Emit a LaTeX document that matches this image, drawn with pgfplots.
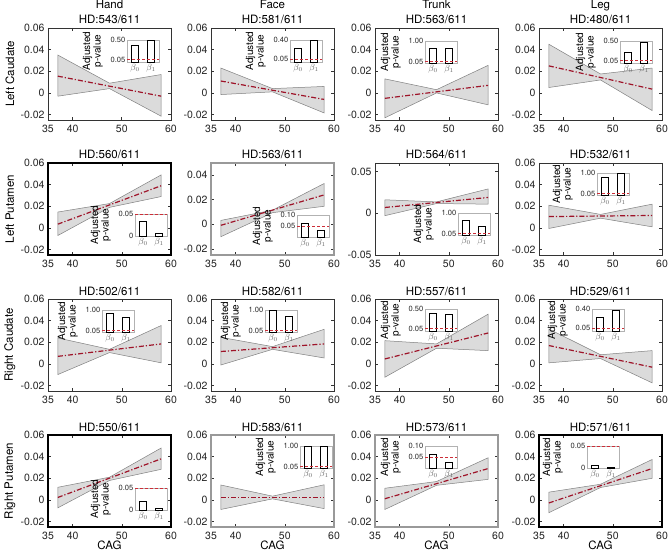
\documentclass[border=0pt]{standalone}
\usepackage{fontspec}
\setmainfont{TeX Gyre Heros}
\usepackage{pgfplots}
\pgfplotsset{compat=1.18}
\definecolor{dred}{rgb}{0.62,0.08,0.16}
\definecolor{ired}{rgb}{0.80,0.18,0.22}
\definecolor{bandfill}{gray}{0.86}
\definecolor{bandedge}{gray}{0.5}
\newcommand\tickfont{\fontsize{10.5}{12}\selectfont}
\newcommand\titlefont{\fontsize{11.5}{13}\selectfont}
\newcommand\insettick{\fontsize{7.5}{8}\selectfont}
\newcommand\insetlab{\fontsize{10}{10.5}\selectfont}
\pgfplotsset{
  mainax/.style={scale only axis, width=123pt, height=92pt, anchor=south west,
    scaled ticks=false,
    xmin=35, xmax=60, xtick={35,40,50,60}, xticklabels={35,40,50,60},
    ymin=-0.025, ymax=0.06, ytick={-0.02,0,0.02,0.04,0.06},
    yticklabels={-0.02,0,0.02,0.04,0.06},
    tick align=inside, tick pos=both, major tick length=3pt,
    axis line style={black!80, line width=0.6pt},
    tick style={black!80, line width=0.6pt},
    ticklabel style={font=\tickfont, text=black!85},
    xticklabel style={yshift=-1.5pt},
    clip=false,
    ylabel style={font=\titlefont, at={(axis description cs:-0.31,0.5)}, anchor=center},
    xlabel style={font=\titlefont, at={(axis description cs:0.5,0)}, anchor=center, yshift=-18pt},
  },
  blackframe/.style={axis line style={black, line width=2.3pt}},
  grayframe/.style={axis line style={black!40, line width=2pt}},
  inset/.style={scale only axis, width=32pt, height=22pt, anchor=south west,
    scaled ticks=false,
    xmin=0.5, xmax=2.5, ymin=0, xtick={1,2},
    xticklabels={$\beta_0$,$\beta_1$},
    axis line style={black!30, line width=0.5pt},
    major tick length=0pt, tick pos=left,
    axis background/.style={fill=white},
    yticklabel style={font=\insettick, text=black!85, inner sep=1.5pt},
    xticklabel style={font=\fontsize{9}{10}\selectfont, text=black!60, inner sep=2pt},
    clip=false,
    ylabel={Adjusted\\p-value},
    ylabel style={font=\insetlab, align=center, at={(axis description cs:-0.75,0.5)}, anchor=south, inner sep=0pt},
  },
}
\newcommand\ptitle[1]{\node[font=\titlefont, anchor=base, inner sep=0pt] at (rel axis cs:0.5,1) [yshift=4pt] {#1};}
\newcommand\ctitle[1]{\node[font=\titlefont, anchor=base, inner sep=0pt] at (rel axis cs:0.5,1) [yshift=19pt] {#1};}
\newcommand\bandline[8]{%
  \addplot[fill=bandfill, draw=bandedge, line width=0.5pt] coordinates {(37,#1) (47.5,#2) (58,#3) (58,#6) (47.5,#5) (37,#4)} -- cycle;
  \addplot[dred, line width=1.2pt, dash pattern=on 5pt off 2pt on 1.2pt off 2pt] coordinates {(37,#7) (58,#8)};}
\newcommand\inset[7]{%
  \begin{axis}[inset, at={(#1pt,#2pt)}, ymax=#3, ytick={#4}, yticklabels={#5}]
    \addplot[ybar, bar width=7pt, fill=white, draw=black, line width=0.6pt] coordinates {(1,#6) (2,#7)};
    \addplot[ired, line width=0.8pt, dash pattern=on 3pt off 2pt] coordinates {(0.5,0.05) (2.5,0.05)};
  \end{axis}}
\begin{document}
\begin{tikzpicture}
\path[use as bounding box] (0,0) rectangle (668pt,559pt);
% ---------------- Row 1: Left Caudate
\begin{axis}[mainax, at={(48pt,439pt)}, ylabel={Left Caudate}]
  \bandline{0.035}{0.009}{0.017}{-0.003}{0.004}{-0.0215}{0.0155}{-0.003}
  \ptitle{HD:543/611}\ctitle{Hand}
\end{axis}
\begin{axis}[mainax, at={(211pt,439pt)}]
  \bandline{0.023}{0.004}{0.006}{-0.0015}{0.001}{-0.0185}{0.011}{-0.006}
  \ptitle{HD:581/611}\ctitle{Face}
\end{axis}
\begin{axis}[mainax, at={(375pt,439pt)}]
  \bandline{0.013}{0.003}{0.0255}{-0.023}{0.000}{-0.011}{-0.005}{0.007}
  \ptitle{HD:563/611}\ctitle{Trunk}
\end{axis}
\begin{axis}[mainax, at={(539pt,439pt)}]
  \bandline{0.045}{0.0175}{0.023}{0.005}{0.012}{-0.0163}{0.025}{0.0035}
  \ptitle{HD:480/611}\ctitle{Leg}
\end{axis}
\inset{127}{497}{0.5}{0.05,0.5}{0.05,0.50}{0.37}{0.49}
\inset{290}{497}{0.4}{0.05,0.4}{0.05,0.40}{0.24}{0.39}
\inset{425}{496}{1}{0.05,1}{0.05,1.00}{0.65}{0.65}
\inset{620}{496}{0.5}{0.05,0.5}{0.05,0.50}{0.25}{0.46}
% ---------------- Row 2: Left Putamen
\begin{axis}[mainax, blackframe, at={(48pt,304pt)}, ylabel={Left Putamen}]
  \bandline{0.0147}{0.0225}{0.049}{-0.007}{0.019}{0.029}{0.0035}{0.039}
  \ptitle{HD:560/611}
\end{axis}
\begin{axis}[mainax, grayframe, at={(211pt,304pt)}, ymax=0.05,
  ytick={-0.02,0,0.02,0.04}, yticklabels={-0.02,0,0.02,0.04}]
  \bandline{0.0032}{0.0115}{0.0333}{-0.0101}{0.0095}{0.0147}{-0.0008}{0.024}
  \ptitle{HD:563/611}
\end{axis}
\begin{axis}[mainax, at={(375pt,304pt)}, ymin=-0.05, ymax=0.06,
  ytick={-0.05,0,0.05}, yticklabels={-0.05,0,0.05}]
  \bandline{0.016}{0.0135}{0.029}{-0.003}{0.0115}{0.0108}{0.0068}{0.0188}
  \ptitle{HD:564/611}
\end{axis}
\begin{axis}[mainax, at={(539pt,304pt)}]
  \bandline{0.021}{0.0125}{0.022}{-0.0005}{0.009}{0.001}{0.0105}{0.0115}
  \ptitle{HD:532/611}
\end{axis}
\inset{135}{323}{0.05}{0,0.05}{0,0.05}{0.034}{0.007}
\inset{297}{322}{0.1}{0.05,0.1}{0.05,0.10}{0.061}{0.031}
\inset{458}{324}{1}{0.05,1}{0.05,1.00}{0.66}{0.38}
\inset{597}{364}{1}{0.05,1}{0.05,1.00}{0.82}{0.99}
% ---------------- Row 3: Right Caudate
\begin{axis}[mainax, at={(48pt,168pt)}, ylabel={Right Caudate}]
  \bandline{0.024}{0.0135}{0.0355}{-0.0098}{0.0105}{0.001}{0.007}{0.0185}
  \ptitle{HD:502/611}
\end{axis}
\begin{axis}[mainax, at={(211pt,168pt)}]
  \bandline{0.0246}{0.016}{0.032}{-0.001}{0.0135}{0.0055}{0.0115}{0.0185}
  \ptitle{HD:582/611}
\end{axis}
\begin{axis}[mainax, at={(375pt,168pt)}]
  \bandline{0.0215}{0.0185}{0.046}{-0.0123}{0.0145}{0.0123}{0.0046}{0.0286}
  \ptitle{HD:557/611}
\end{axis}
\begin{axis}[mainax, at={(539pt,168pt)}]
  \bandline{0.0323}{0.0085}{0.0123}{0.001}{0.005}{-0.0175}{0.017}{-0.003}
  \ptitle{HD:529/611}
\end{axis}
\inset{102}{227}{1}{0.05,1}{0.05,1.00}{0.85}{0.65}
\inset{265}{227}{1}{0.05,1}{0.05,1.00}{0.99}{0.70}
\inset{425}{228}{0.5}{0.05,0.5}{0.05,0.50}{0.41}{0.37}
\inset{592}{228}{0.4}{0.05,0.4}{0.05,0.40}{0.24}{0.38}
% ---------------- Row 4: Right Putamen
\begin{axis}[mainax, blackframe, at={(48pt,32pt)}, ylabel={Right Putamen}, xlabel={CAG}]
  \bandline{0.0117}{0.021}{0.048}{-0.0073}{0.018}{0.0283}{0.0023}{0.038}
  \ptitle{HD:550/611}
\end{axis}
\begin{axis}[mainax, grayframe, at={(211pt,32pt)}, xlabel={CAG}]
  \bandline{0.0138}{0.0035}{0.014}{-0.0088}{0.001}{-0.008}{0.0025}{0.0025}
  \ptitle{HD:583/611}
\end{axis}
\begin{axis}[mainax, grayframe, at={(375pt,32pt)}, xlabel={CAG}]
  \bandline{0.0108}{0.017}{0.039}{-0.0088}{0.0135}{0.019}{0.0011}{0.029}
  \ptitle{HD:573/611}
\end{axis}
\begin{axis}[mainax, blackframe, at={(539pt,32pt)}, xlabel={CAG}]
  \bandline{0.0072}{0.0145}{0.0374}{-0.0118}{0.0115}{0.020}{-0.0028}{0.029}
  \ptitle{HD:571/611}
\end{axis}
\inset{135}{49}{0.05}{0,0.05}{0,0.05}{0.019}{0.004}
\inset{300}{91}{1}{0.05,1}{0.05,1.00}{0.99}{0.99}
\inset{425}{91}{0.1}{0.05,0.1}{0.05,0.10}{0.063}{0.027}
\inset{587}{91}{0.05}{0,0.05}{0,0.05}{0.0065}{0.0016}
\end{tikzpicture}
\end{document}
